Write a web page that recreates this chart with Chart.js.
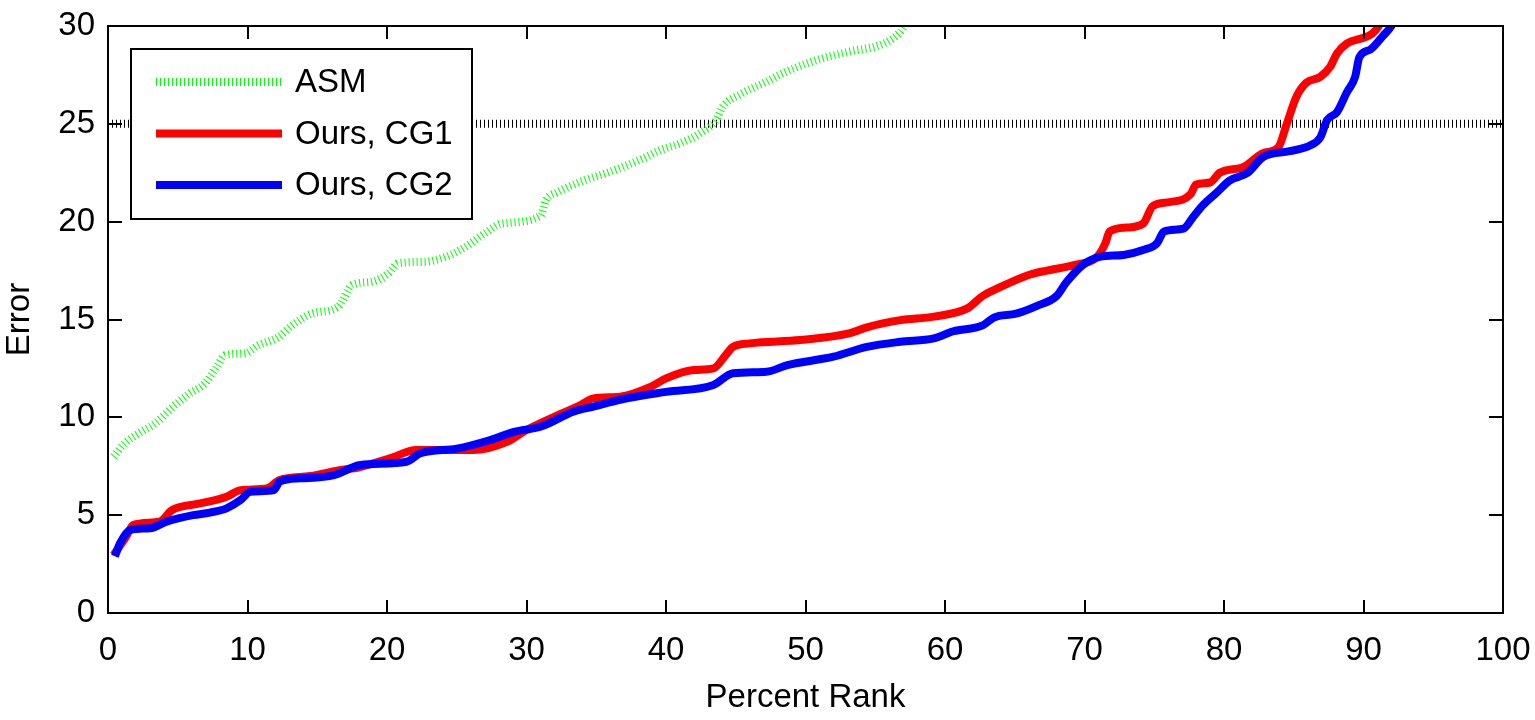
<!DOCTYPE html>
<html>
<head>
<meta charset="utf-8">
<script src="https://cdn.jsdelivr.net/npm/chart.js@4.4.1/dist/chart.umd.min.js"></script>
<style>
  html, body { margin: 0; padding: 0; background: #fff; }
  #chart { display: block; }
</style>
</head>
<body>
<canvas id="chart" width="1535" height="720"></canvas>
<script>
const xTicks = [0, 10, 20, 30, 40, 50, 60, 70, 80, 90, 100];
const yTicks = [0, 5, 10, 15, 20, 25, 30];

const asmX = [0.4, 1.2, 2.2, 3.4, 4.6, 5.8, 6.95, 7.8, 8.4, 9.8, 10.8, 12.2, 13.2, 14.6, 16.5, 17.5, 18.9, 20.1, 20.8, 22.7, 24.2, 25.6, 27.0, 28.2, 31.0, 31.4, 32.2, 34.1, 36.0, 38.1, 39.6, 41.0, 42.4, 43.6, 44.1, 45.3, 47.2, 48.4, 50.8, 53.2, 55.6, 56.8, 57.1, 57.5];
const asmY = [7.99, 8.67, 9.18, 9.7, 10.5, 11.2, 11.74, 12.59, 13.18, 13.27, 13.69, 14.1, 14.7, 15.3, 15.65, 16.76, 16.93, 17.36, 17.87, 17.95, 18.2, 18.7, 19.4, 19.9, 20.3, 21.1, 21.5, 22.1, 22.55, 23.15, 23.66, 24.0, 24.5, 25.2, 25.9, 26.5, 27.15, 27.6, 28.26, 28.7, 29.1, 29.7, 30.0, 30.4];

const cg1X = [0.4, 1.3, 1.8, 3.7, 4.6, 6.6, 8.5, 9.5, 11.4, 12.3, 14.5, 16.6, 18.0, 20.2, 22.1, 26.2, 28.6, 30.0, 31.9, 33.8, 34.8, 36.7, 38.9, 40.0, 42.0, 43.4, 44.3, 44.8, 46.0, 49.6, 53.2, 54.4, 56.8, 59.2, 61.6, 62.7, 63.8, 66.1, 67.3, 69.4, 70.9, 71.5, 71.8, 73.0, 74.2, 74.9, 76.1, 77.6, 78.0, 79.0, 79.7, 81.4, 82.8, 83.9, 84.5, 85.2, 85.9, 86.9, 87.6, 88.1, 88.8, 90.0, 90.6, 91.1, 91.6];
const cg1Y = [2.96, 3.9, 4.5, 4.67, 5.26, 5.6, 5.94, 6.28, 6.37, 6.8, 7.0, 7.3, 7.45, 7.9, 8.33, 8.33, 8.75, 9.35, 10.0, 10.6, 10.97, 11.05, 11.56, 11.99, 12.42, 12.5, 13.2, 13.6, 13.78, 13.95, 14.3, 14.6, 14.97, 15.15, 15.57, 16.2, 16.6, 17.3, 17.5, 17.8, 18.2, 18.9, 19.5, 19.7, 19.9, 20.8, 21.0, 21.4, 21.9, 22.0, 22.5, 22.8, 23.5, 23.8, 25.0, 26.4, 27.1, 27.4, 27.9, 28.6, 29.1, 29.4, 29.6, 30.0, 30.8];

const cg2X = [0.5, 0.86, 1.58, 3.0, 4.2, 6.1, 7.3, 8.5, 9.5, 10.2, 11.9, 12.3, 13.8, 16.2, 18.1, 21.4, 22.4, 25.0, 27.4, 29.1, 31.0, 33.4, 34.8, 36.7, 40.0, 43.4, 44.8, 47.2, 48.7, 52.0, 54.4, 56.8, 59.2, 60.6, 62.7, 63.5, 65.1, 66.6, 68.0, 68.7, 69.9, 71.1, 72.8, 74.2, 75.2, 75.7, 77.1, 77.8, 78.5, 79.5, 80.4, 81.7, 82.8, 84.7, 86.2, 86.9, 87.4, 88.1, 88.8, 89.4, 89.7, 90.5, 91.4, 92.0, 92.4];
const cg2Y = [2.9, 3.56, 4.24, 4.33, 4.67, 5.0, 5.13, 5.35, 5.77, 6.2, 6.28, 6.71, 6.88, 7.05, 7.56, 7.73, 8.16, 8.4, 8.84, 9.26, 9.52, 10.3, 10.55, 10.9, 11.3, 11.65, 12.25, 12.33, 12.67, 13.1, 13.6, 13.86, 14.03, 14.4, 14.7, 15.1, 15.3, 15.7, 16.2, 16.9, 17.8, 18.2, 18.3, 18.55, 18.9, 19.5, 19.65, 20.25, 20.85, 21.5, 22.1, 22.5, 23.3, 23.6, 23.9, 24.3, 25.2, 25.6, 26.6, 27.4, 28.4, 28.8, 29.5, 30.0, 30.6];

const refX = [0, 100];
const refY = [25, 25];

const legendItems = [
    { label: 'ASM', color: '#00ff00', dash: [1, 3], width: 8 },
    { label: 'Ours, CG1', color: '#ff0000', dash: [], width: 8 },
    { label: 'Ours, CG2', color: '#0000ff', dash: [], width: 8 }
];

const FONT = '"Liberation Sans", Arial, Helvetica, sans-serif';
const FSIZE = 33;

function toPoints(xs, ys) {
    return xs.map((x, i) => ({ x: x, y: ys[i] }));
}

// box, inward ticks on all sides and the legend, MATLAB style
const matlabFrame = {
    id: 'matlabFrame',
    afterDatasetsDraw(chart) {
        const ctx = chart.ctx;
        const a = chart.chartArea;
        const xs = chart.scales.x;
        const ys = chart.scales.y;
        ctx.save();
        ctx.strokeStyle = '#000';
        ctx.lineWidth = 2;
        ctx.setLineDash([]);
        ctx.beginPath();
        xTicks.forEach(v => {
            const px = Math.round(xs.getPixelForValue(v));
            ctx.moveTo(px, a.bottom); ctx.lineTo(px, a.bottom - 13);
            ctx.moveTo(px, a.top); ctx.lineTo(px, a.top + 13);
        });
        yTicks.forEach(v => {
            const py = Math.round(ys.getPixelForValue(v));
            ctx.moveTo(a.left, py); ctx.lineTo(a.left + 14, py);
            ctx.moveTo(a.right, py); ctx.lineTo(a.right - 14, py);
        });
        ctx.stroke();
        ctx.strokeRect(a.left, a.top, a.right - a.left, a.bottom - a.top);

        // legend
        const lx = a.left + 23, ly = a.top + 23, lw = 341, lh = 170;
        ctx.fillStyle = '#fff';
        ctx.fillRect(lx, ly, lw, lh);
        ctx.strokeRect(lx, ly, lw, lh);
        ctx.font = FSIZE + 'px ' + FONT;
        ctx.textBaseline = 'middle';
        ctx.textAlign = 'left';
        legendItems.forEach((item, i) => {
            const y = ly + 33 + i * 51.5;
            ctx.strokeStyle = item.color;
            ctx.lineWidth = item.width;
            ctx.setLineDash(item.dash);
            ctx.lineCap = 'butt';
            ctx.beginPath();
            ctx.moveTo(lx + 25, y);
            ctx.lineTo(lx + 151, y);
            ctx.stroke();
            ctx.fillStyle = '#000';
            ctx.fillText(item.label, lx + 164, y + 1);
        });
        ctx.restore();
    }
};

const ctx = document.getElementById('chart').getContext('2d');
new Chart(ctx, {
    type: 'line',
    data: {
        datasets: [
            {
                label: 'threshold',
                data: toPoints(refX, refY),
                borderColor: '#000',
                borderWidth: 8,
                borderDash: [1, 3],
                borderCapStyle: 'butt',
                pointRadius: 0,
                order: 4
            },
            {
                label: 'ASM',
                data: toPoints(asmX, asmY),
                borderColor: '#00ff00',
                borderWidth: 8,
                borderDash: [1, 3],
                borderCapStyle: 'butt',
                pointRadius: 0,
                cubicInterpolationMode: 'monotone',
                order: 3
            },
            {
                label: 'Ours, CG1',
                data: toPoints(cg1X, cg1Y),
                borderColor: '#ff0000',
                borderWidth: 8,
                borderJoinStyle: 'round',
                pointRadius: 0,
                cubicInterpolationMode: 'monotone',
                order: 2
            },
            {
                label: 'Ours, CG2',
                data: toPoints(cg2X, cg2Y),
                borderColor: '#0000ff',
                borderWidth: 8,
                borderJoinStyle: 'round',
                pointRadius: 0,
                cubicInterpolationMode: 'monotone',
                order: 1
            }
        ]
    },
    options: {
        responsive: false,
        animation: false,
        events: [],
        layout: { padding: { top: 26, right: 32, left: 0, bottom: 0 } },
        plugins: {
            legend: { display: false },
            tooltip: { enabled: false }
        },
        scales: {
            x: {
                type: 'linear',
                min: 0,
                max: 100,
                afterBuildTicks: s => { s.ticks = xTicks.map(v => ({ value: v })); },
                afterFit: s => { s.height = 107; s.paddingLeft = 0; s.paddingRight = 0; },
                grid: { display: false, drawTicks: false },
                border: { display: false },
                ticks: {
                    color: '#000',
                    padding: 18,
                    maxRotation: 0,
                    font: { family: FONT, size: FSIZE }
                },
                title: {
                    display: true,
                    text: 'Percent Rank',
                    color: '#000',
                    padding: { top: 0, bottom: 2 },
                    font: { family: FONT, size: FSIZE }
                }
            },
            y: {
                type: 'linear',
                min: 0,
                max: 30,
                afterBuildTicks: s => { s.ticks = yTicks.map(v => ({ value: v })); },
                afterFit: s => { s.width = 108; s.paddingTop = 0; s.paddingBottom = 0; },
                grid: { display: false, drawTicks: false },
                border: { display: false },
                ticks: {
                    color: '#000',
                    padding: 13,
                    font: { family: FONT, size: FSIZE }
                },
                title: {
                    display: true,
                    text: 'Error',
                    color: '#000',
                    padding: { top: 0, bottom: 0 },
                    font: { family: FONT, size: FSIZE }
                }
            }
        }
    },
    plugins: [matlabFrame]
});
</script>
</body>
</html>
